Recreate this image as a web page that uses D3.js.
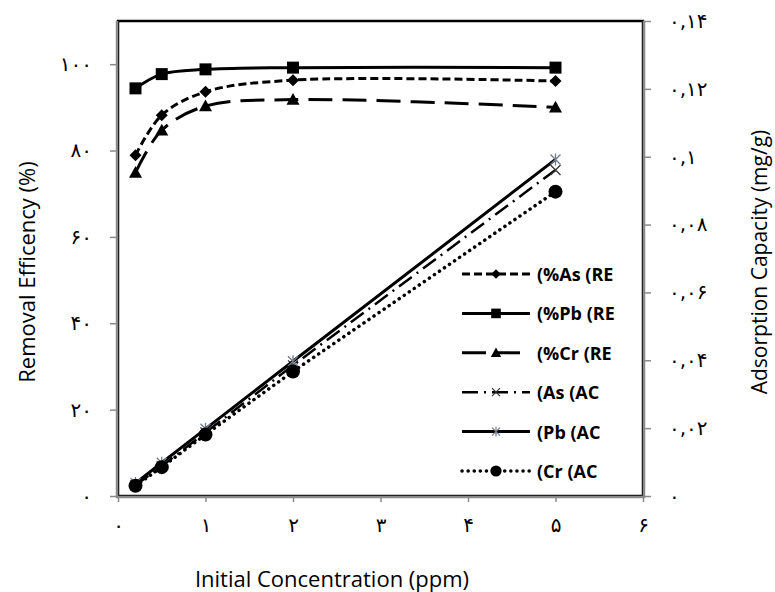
<!DOCTYPE html>
<html>
<head>
<meta charset="utf-8">
<script src="https://cdn.jsdelivr.net/npm/d3@7"></script>
<style>
  body { margin: 0; background: #ffffff; }
</style>
</head>
<body>
<div id="vis"></div>
<script>
// initial concentration (ppm) on the x axis
const CONC = [0.2, 0.5, 1, 2, 5];

// removal efficiency (%) - left axis
const RE_AS = [78.9, 88.2, 93.6, 96.3, 96.1];
const RE_PB = [94.4, 97.7, 98.8, 99.2, 99.2];
const RE_CR = [74.9, 84.7, 90.3, 91.8, 90.0];

// adsorption capacity (mg/g) - right axis
const AC_AS = [0.0032, 0.0088, 0.0187, 0.0385, 0.0961];
const AC_PB = [0.0038, 0.0098, 0.0198, 0.0397, 0.0992];
const AC_CR = [0.0030, 0.0085, 0.0181, 0.0367, 0.0897];

// tick values
const X_TICKS = [0, 1, 2, 3, 4, 5, 6];
const LEFT_TICKS = [0, 20, 40, 60, 80, 100];
const RIGHT_TICKS = [0, 0.02, 0.04, 0.06, 0.08, 0.1, 0.12, 0.14];

// legend labels, as printed
const LEGEND_LABELS = ["(%As (RE", "(%Pb (RE", "(%Cr (RE", "(As (AC", "(Pb (AC", "(Cr (AC"];

// frame
const FRAME_WIDTH = 775;
const FRAME_HEIGHT = 592;
const PLOT = {left: 118, right: 643, top: 21, bottom: 496};

const FRAME = d3.select("#vis")
                .append("svg")
                  .attr("width", FRAME_WIDTH)
                  .attr("height", FRAME_HEIGHT)
                  .style("background", "#ffffff");

// scales
const X_SCALE = d3.scaleLinear().domain([0, 6]).range([PLOT.left, PLOT.right]);
const YL_SCALE = d3.scaleLinear().domain([0, 110]).range([PLOT.bottom, PLOT.top]);
const YR_SCALE = d3.scaleLinear().domain([0, 0.14]).range([PLOT.bottom, PLOT.top]);

// western digits -> persian digits, decimal point -> comma
function fa(v) {
  return String(v).replace(".", ",").replace(/\d/g, (c) => String.fromCharCode(0x06F0 + (+c)));
}

const TICK_FONT = "'DejaVu Sans', sans-serif";
const TITLE_FONT = "'Open Sans', sans-serif";
const AXIS_GREY = "#8a8a8a";

// plot border (black)
FRAME.append("rect")
  .attr("x", PLOT.left)
  .attr("y", PLOT.top)
  .attr("width", PLOT.right - PLOT.left)
  .attr("height", PLOT.bottom - PLOT.top)
  .attr("fill", "none")
  .attr("stroke", "#000")
  .attr("stroke-width", 2.5);

// axes
function styleAxis(g) {
  g.select(".domain").remove();
  g.selectAll(".tick line").attr("stroke", AXIS_GREY).attr("stroke-width", 1.5);
  g.selectAll(".tick text")
    .attr("fill", "#000")
    .style("font-family", TICK_FONT)
    .style("font-size", "20px");
}

FRAME.append("g")
  .attr("transform", "translate(" + PLOT.left + ",0)")
  .call(d3.axisLeft(YL_SCALE).tickValues(LEFT_TICKS).tickSize(8).tickPadding(18).tickFormat(fa))
  .call(styleAxis);

FRAME.append("g")
  .attr("transform", "translate(" + PLOT.right + ",0)")
  .call(d3.axisRight(YR_SCALE).tickValues(RIGHT_TICKS).tickSize(8).tickPadding(18).tickFormat(fa))
  .call(styleAxis);

FRAME.append("g")
  .attr("transform", "translate(0," + PLOT.bottom + ")")
  .call(d3.axisBottom(X_SCALE).tickValues(X_TICKS).tickSize(6).tickPadding(16).tickFormat(fa))
  .call(styleAxis);

// grey axis lines on left, bottom, right
FRAME.append("path")
  .attr("d", "M" + (PLOT.left - 1) + "," + PLOT.top + "V" + (PLOT.bottom + 1) + "H" + (PLOT.right + 1) + "V" + PLOT.top)
  .attr("fill", "none")
  .attr("stroke", AXIS_GREY)
  .attr("stroke-width", 2.5);

// axis titles
FRAME.append("text")
  .attr("transform", "translate(26," + 272 + ") rotate(-90)")
  .attr("text-anchor", "middle")
  .attr("dominant-baseline", "central")
  .style("font-family", TITLE_FONT)
  .style("font-size", "22px")
  .text("Removal Efficency (%)");

FRAME.append("text")
  .attr("transform", "translate(759," + 262 + ") rotate(-90)")
  .attr("text-anchor", "middle")
  .attr("dominant-baseline", "central")
  .style("font-family", TITLE_FONT)
  .style("font-size", "21px")
  .text("Adsorption Capacity (mg/g)");

FRAME.append("text")
  .attr("x", 332)
  .attr("y", 578)
  .attr("text-anchor", "middle")
  .attr("dominant-baseline", "central")
  .style("font-family", TITLE_FONT)
  .style("font-size", "22px")
  .text("Initial Concentration (ppm)");

// marker shapes
const MARKERS = {
  diamond: (s) => "M0," + (-s) + "L" + s + ",0L0," + s + "L" + (-s) + ",0Z",
  square: (s) => "M" + (-s) + "," + (-s) + "H" + s + "V" + s + "H" + (-s) + "Z",
  triangle: (s) => "M0," + (-s) + "L" + s + "," + (s * 0.8) + "H" + (-s) + "Z",
  times: (s) => "M" + (-s) + "," + (-s) + "L" + s + "," + s + "M" + s + "," + (-s) + "L" + (-s) + "," + s,
  asterisk: (s) => "M" + (-s) + "," + (-s) + "L" + s + "," + s + "M" + s + "," + (-s) + "L" + (-s) + "," + s + "M0," + (-s * 1.2) + "V" + (s * 1.2),
  circle: (s) => d3.arc()({innerRadius: 0, outerRadius: s, startAngle: 0, endAngle: 2 * Math.PI})
};

// series definitions
const SERIES = [
  {values: RE_AS, y: YL_SCALE, dash: "8,4", width: 3, curve: true, marker: "diamond", size: 6, fill: "#000", stroke: "none"},
  {values: RE_PB, y: YL_SCALE, dash: null, width: 3, curve: true, marker: "square", size: 6, fill: "#000", stroke: "none"},
  {values: RE_CR, y: YL_SCALE, dash: "24,10", width: 3, curve: true, marker: "triangle", size: 6.5, fill: "#000", stroke: "none"},
  {values: AC_AS, y: YR_SCALE, dash: "16,6,2,6", width: 2.5, curve: false, marker: "times", size: 5, fill: "none", stroke: "#333"},
  {values: AC_PB, y: YR_SCALE, dash: null, width: 3, curve: false, marker: "asterisk", size: 5, fill: "none", stroke: "#6f7b8f"},
  {values: AC_CR, y: YR_SCALE, dash: "0.1,6", width: 3.5, curve: false, marker: "circle", size: 7, fill: "#000", stroke: "none"}
];

SERIES.forEach((s) => {
  const pts = CONC.map((c, i) => [c, s.values[i]]);
  const line = d3.line()
    .x((d) => X_SCALE(d[0]))
    .y((d) => s.y(d[1]))
    .curve(s.curve ? d3.curveCatmullRom.alpha(0.5) : d3.curveLinear);

  FRAME.append("path")
    .datum(pts)
    .attr("d", line)
    .attr("fill", "none")
    .attr("stroke", "#000")
    .attr("stroke-width", s.width)
    .attr("stroke-linecap", s.dash === "0.1,6" ? "round" : "butt")
    .attr("stroke-dasharray", s.dash);

  FRAME.selectAll(null)
    .data(pts)
    .enter()
    .append("path")
      .attr("transform", (d) => "translate(" + X_SCALE(d[0]) + "," + s.y(d[1]) + ")")
      .attr("d", MARKERS[s.marker](s.size))
      .attr("fill", s.fill)
      .attr("stroke", s.stroke)
      .attr("stroke-width", 1.3);
});

// legend
const LEG_X0 = 462, LEG_X1 = 530, LEG_Y0 = 274, LEG_STEP = 39.4;
SERIES.forEach((s, i) => {
  const y = LEG_Y0 + i * LEG_STEP;
  FRAME.append("line")
    .attr("x1", LEG_X0).attr("x2", LEG_X1)
    .attr("y1", y).attr("y2", y)
    .attr("stroke", "#000")
    .attr("stroke-width", s.width)
    .attr("stroke-linecap", s.dash === "0.1,6" ? "round" : "butt")
    .attr("stroke-dasharray", s.dash);
  FRAME.append("path")
    .attr("transform", "translate(" + ((LEG_X0 + LEG_X1) / 2) + "," + y + ")")
    .attr("d", MARKERS[s.marker](s.size * 0.8))
    .attr("fill", s.fill)
    .attr("stroke", s.stroke)
    .attr("stroke-width", 1.2);
  FRAME.append("text")
    .attr("x", 537)
    .attr("y", y)
    .attr("dominant-baseline", "central")
    .style("font-family", TITLE_FONT)
    .style("font-size", "18px")
    .style("font-weight", "bold")
    .text(LEGEND_LABELS[i]);
});
</script>
</body>
</html>
